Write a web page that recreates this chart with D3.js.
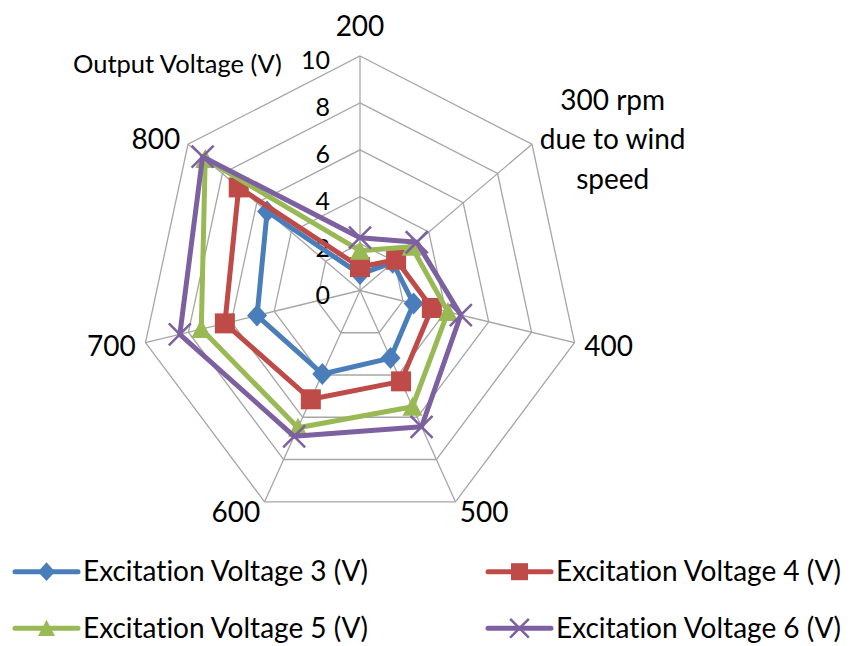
<!DOCTYPE html>
<html>
<head>
<meta charset="utf-8">
<script src="https://cdn.jsdelivr.net/npm/d3@7"></script>
<style>
  html, body { margin: 0; padding: 0; background: #fff; }
  svg { display: block; font-family: Lato, "Open Sans", sans-serif; font-variant-ligatures: none; }
</style>
</head>
<body>
<svg id="chart" width="851" height="646"></svg>
<script>
// Spokes of the radar: rotor speed (rpm)
const categoryLines = [["200"], ["300 rpm", "due to wind", "speed"], ["400"], ["500"], ["600"], ["700"], ["800"]];
const categories = categoryLines.map(l => l.join(" "));

// Output voltage (V) for each excitation voltage
const seriesNames = ["Excitation Voltage 3 (V)", "Excitation Voltage 4 (V)", "Excitation Voltage 5 (V)", "Excitation Voltage 6 (V)"];
const exc3 = [0.7, 1.9, 2.5, 3.2, 3.95, 4.8, 5.4];
const exc4 = [1.0, 2.1, 3.35, 4.3, 5.15, 6.3, 7.05];
const exc5 = [1.7, 3.0, 4.1, 5.5, 6.5, 7.4, 9.0];
const exc6 = [2.25, 3.3, 4.7, 6.45, 6.9, 8.4, 9.15];
const seriesValues = [exc3, exc4, exc5, exc6];

const tickValues = [0, 2, 4, 6, 8, 10];
const axisTitle = "Output Voltage (V)";

const colors = ["#4A7EBB", "#BE4B48", "#98B954", "#7D60A0"];
const markers = ["diamond", "square", "triangle", "cross"];

const svg = d3.select("#chart");
const cx = 360, cy = 290.5;
const rx = d3.scaleLinear().domain([0, 10]).range([0, 220]);
const ry = d3.scaleLinear().domain([0, 10]).range([0, 234.5]);
const step = 2 * Math.PI / categories.length;
const ang = i => i * step;
const pt = (i, v) => [cx + rx(v) * Math.sin(ang(i)), cy - ry(v) * Math.cos(ang(i))];

// grid rings
const gridG = svg.append("g").attr("fill", "none").attr("stroke", "#A6A6A6").attr("stroke-width", 1.3);
tickValues.filter(t => t > 0).forEach(t => {
  gridG.append("path")
    .attr("d", d3.line()(categories.map((c, i) => pt(i, t))) + "Z");
});
// spokes
categories.forEach((c, i) => {
  const [x, y] = pt(i, 10);
  gridG.append("line").attr("x1", cx).attr("y1", cy).attr("x2", x).attr("y2", y);
});

// radial tick labels
svg.append("g").selectAll("text").data(tickValues).join("text")
  .attr("x", cx - 30)
  .attr("y", d => cy - ry(d) + 3)
  .attr("text-anchor", "end")
  .attr("dominant-baseline", "central")
  .attr("font-size", 25)
  .attr("fill", "#000")
  .text(d => d);

// axis title
svg.append("text")
  .attr("x", 73).attr("y", 63)
  .attr("dominant-baseline", "central")
  .attr("font-size", 25.5)
  .attr("fill", "#000")
  .text(axisTitle);

// category labels
const catG = svg.append("g").attr("font-size", 28).attr("fill", "#000");
categoryLines.forEach((lines, i) => {
  const dx = Math.sin(ang(i)), dy = -Math.cos(ang(i));
  const pad = Math.abs(dx) < 0.1 ? 31 : 10;
  const px = cx + (rx(10) + pad) * dx;
  const py = cy + (ry(10) + pad) * dy;
  const lh = 39.5;
  const t = catG.append("text").attr("dominant-baseline", "central");
  lines.forEach((s, j) => {
    t.append("tspan").attr("y", py + (j - (lines.length - 1) / 2) * lh).text(s);
  });
  if (Math.abs(dx) < 0.1) {
    t.attr("text-anchor", "middle").selectAll("tspan").attr("x", px);
  } else {
    // center the lines inside a block anchored at the vertex side
    const w = d3.max(t.selectAll("tspan").nodes(), n => n.getComputedTextLength());
    const mid = dx > 0 ? px + w / 2 : px - w / 2;
    t.attr("text-anchor", "middle").selectAll("tspan").attr("x", mid);
  }
});

// marker shapes
function drawMarker(g, type, x, y, color, scale = 1) {
  if (type === "diamond") {
    const a = 10 * scale, b = 11 * scale;
    g.append("path").attr("d", `M${x},${y - b}L${x + a},${y}L${x},${y + b}L${x - a},${y}Z`).attr("fill", color);
  } else if (type === "square") {
    const s = 10 * scale;
    g.append("rect").attr("x", x - s).attr("y", y - s).attr("width", 2 * s).attr("height", 2 * s).attr("fill", color);
  } else if (type === "triangle") {
    const w = 10 * scale, h = 9 * scale;
    g.append("path").attr("d", `M${x},${y - h - 1}L${x + w},${y + h}L${x - w},${y + h}Z`).attr("fill", color);
  } else {
    const s = 11 * scale;
    g.append("path").attr("d", `M${x - s},${y - s}L${x + s},${y + s}M${x - s},${y + s}L${x + s},${y - s}`)
      .attr("stroke", color).attr("stroke-width", 2.5).attr("fill", "none");
  }
}

// series
seriesValues.forEach((vals, si) => {
  const g = svg.append("g");
  const pts = vals.map((v, i) => pt(i, v));
  g.append("path")
    .attr("d", d3.line()(pts) + "Z")
    .attr("fill", "none")
    .attr("stroke", colors[si])
    .attr("stroke-width", 5)
    .attr("stroke-linejoin", "round");
  pts.forEach(([x, y]) => drawMarker(g, markers[si], x, y, colors[si]));
});

// legend
const legendPos = [[15, 571.7], [488, 571.7], [15, 628.3], [488, 628.3]];
seriesNames.forEach((name, si) => {
  const [lx, ly] = legendPos[si];
  const g = svg.append("g");
  g.append("line").attr("x1", lx).attr("x2", lx + 63).attr("y1", ly).attr("y2", ly)
    .attr("stroke", colors[si]).attr("stroke-width", 5).attr("stroke-linecap", "round");
  drawMarker(g, markers[si], lx + 31.5, ly, colors[si], 0.85);
  g.append("text").attr("x", lx + 68).attr("y", ly + 9.5)
    .attr("font-size", 28).attr("fill", "#000").text(name);
});
</script>
</body>
</html>
